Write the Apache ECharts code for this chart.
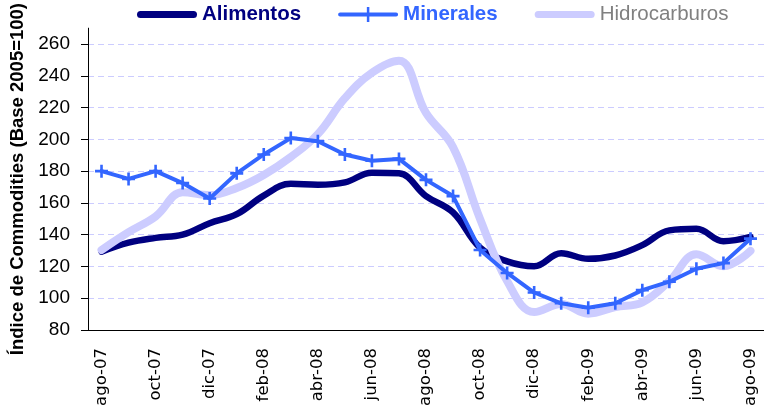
<!DOCTYPE html>
<html>
<head>
<meta charset="utf-8">
<script src="https://cdn.jsdelivr.net/npm/echarts@6/dist/echarts.min.js"></script>
<style>
  html, body { margin: 0; padding: 0; background: #fff; }
  #chart { width: 764px; height: 412px; }
</style>
</head>
<body>
<div id="chart"></div>
<script>
// meses (ago-07 .. ago-09)
var meses = ["ago-07", "sep-07", "oct-07", "nov-07", "dic-07", "ene-08", "feb-08", "mar-08",
  "abr-08", "may-08", "jun-08", "jul-08", "ago-08", "sep-08", "oct-08", "nov-08", "dic-08",
  "ene-09", "feb-09", "mar-09", "abr-09", "may-09", "jun-09", "jul-09", "ago-09"];

var alimentos = [129.3, 135, 138, 140, 147.2, 152.9, 164.6, 172, 171.4, 172.9, 179, 178.6,
  164.3, 154, 131.8, 123.2, 120.1, 128.3, 124.8, 126.9, 133.4, 142.7, 143.7, 135.9, 138.6];

var minerales = [180, 175.1, 180, 172.5, 162.8, 178.6, 190.5, 200.8, 198.8, 190.5, 186.5, 187.7,
  174.5, 164.3, 130.4, 115.9, 103.6, 96.8, 94, 96.8, 105.1, 110.4, 118.6, 122.1, 137.5];

var hidrocarburos = [130.4, 141.6, 151.5, 166.7, 164.9, 169.4, 177.6, 188.9, 203.3, 225.9, 241.9, 249.5,
  216.6, 195.1, 149.9, 110.8, 91.3, 96.4, 90.3, 94.4, 97.4, 110.8, 127.7, 120.1, 129.8];

// marcas del eje Y (el eje llega hasta 270 sin etiqueta)
var yTicks = [80, 100, 120, 140, 160, 180, 200, 220, 240, 260];

var chart = echarts.init(document.getElementById("chart"));

// cruz "+" de los marcadores
var cruz = "path://M4,0 L6,0 L6,4 L10,4 L10,6 L6,6 L6,10 L4,10 L4,6 L0,6 L0,4 L4,4 Z";
// iconos de la leyenda
var barra = "path://M3.5,0 L56.5,0 A3.5,3.5 0 0 1 56.5,7 L3.5,7 A3.5,3.5 0 0 1 3.5,0 Z";
var barraCruz = "path://M2,5.5 L58,5.5 A2,2 0 0 1 58,9.5 L2,9.5 A2,2 0 0 1 2,5.5 Z M28.75,0 L31.25,0 L31.25,15 L28.75,15 Z";

var option = {
  animation: false,
  legend: {
    left: 137,
    top: 4,
    padding: 0,
    itemWidth: 60,
    itemHeight: 18,
    itemGap: 37,
    symbolKeepAspect: true,
    textStyle: { fontFamily: "Liberation Sans", fontSize: 20.5 },
    data: [
      { name: "Alimentos", icon: barra, textStyle: { color: "#000080", fontWeight: "bold" } },
      { name: "Minerales", icon: barraCruz, textStyle: { color: "#3366ff", fontWeight: "bold" } },
      { name: "Hidrocarburos", icon: barra, textStyle: { color: "#808080" } }
    ]
  },
  grid: { left: 86, right: -3, top: 21.25, bottom: 82 },
  xAxis: {
    type: "category",
    data: meses,
    boundaryGap: true,
    axisLine: { lineStyle: { color: "#000", width: 1 } },
    axisTick: { interval: 1, length: 7, lineStyle: { color: "#000" } },
    axisLabel: {
      interval: 1,
      rotate: 90,
      margin: 18,
      color: "#000",
      fontFamily: "DejaVu Sans",
      fontSize: 16.5
    }
  },
  yAxis: {
    type: "value",
    min: 80,
    max: 270,
    interval: 20,
    name: "Índice de Commodities (Base 2005=100)",
    nameLocation: "middle",
    nameRotate: 90,
    nameGap: 61,
    nameTextStyle: { fontFamily: "Liberation Sans", fontWeight: "bold", fontSize: 18.5, color: "#000" },
    axisLine: { show: true, lineStyle: { color: "#000", width: 1 } },
    axisTick: { show: true, length: 7, customValues: yTicks, lineStyle: { color: "#000" } },
    axisLabel: { margin: 18, customValues: yTicks, color: "#000", fontFamily: "Liberation Sans", fontSize: 19 },
    splitLine: { lineStyle: { color: "#ccccff", type: [6, 4], width: 1 } }
  },
  series: [
    {
      name: "Alimentos",
      type: "line",
      data: alimentos,
      smooth: 0.4,
      symbol: "none",
      z: 2,
      itemStyle: { color: "#000080" },
      lineStyle: { color: "#000080", width: 6.5, cap: "round", join: "round" }
    },
    {
      name: "Hidrocarburos",
      type: "line",
      data: hidrocarburos,
      smooth: 0.4,
      symbol: "none",
      z: 3,
      itemStyle: { color: "#ccccff" },
      lineStyle: { color: "#ccccff", width: 8, cap: "round", join: "round" }
    },
    {
      name: "Minerales",
      type: "line",
      data: minerales,
      symbol: cruz,
      symbolSize: 13,
      showAllSymbol: true,
      z: 4,
      itemStyle: { color: "#3366ff" },
      lineStyle: { color: "#3366ff", width: 4, cap: "round", join: "round" }
    }
  ]
};

chart.setOption(option);
</script>
</body>
</html>
